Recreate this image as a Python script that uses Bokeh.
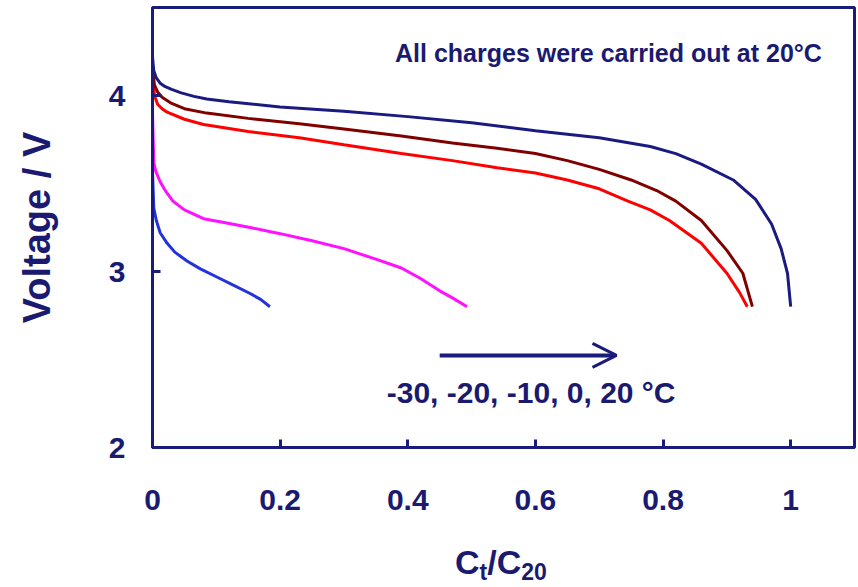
from bokeh.plotting import figure
from bokeh.models import Range1d, FixedTicker, Label, Arrow, OpenHead, Div
from bokeh.layouts import column
from bokeh.embed import file_html
from bokeh.resources import INLINE

# ---- data ----
x_m20 = [0, 0.002, 0.006, 0.012, 0.02, 0.03, 0.045, 0.065, 0.085, 0.12, 0.2, 0.3, 0.4, 0.5, 0.6, 0.7, 0.78, 0.82, 0.86, 0.91, 0.945, 0.97, 0.985, 0.995, 1.0]
v_m20 = [4.22, 4.14, 4.10, 4.07, 4.05, 4.035, 4.015, 3.995, 3.98, 3.965, 3.935, 3.91, 3.88, 3.845, 3.80, 3.76, 3.71, 3.67, 3.61, 3.52, 3.41, 3.27, 3.13, 2.99, 2.80]

x_0 = [0, 0.003, 0.008, 0.015, 0.03, 0.05, 0.085, 0.15, 0.23, 0.3, 0.39, 0.47, 0.54, 0.6, 0.65, 0.7, 0.75, 0.79, 0.82, 0.86, 0.9, 0.925, 0.94]
v_0 = [4.16, 4.06, 4.02, 3.99, 3.955, 3.925, 3.90, 3.87, 3.84, 3.81, 3.77, 3.73, 3.70, 3.67, 3.63, 3.58, 3.52, 3.46, 3.40, 3.29, 3.12, 2.99, 2.80]

x_n10 = [0, 0.003, 0.008, 0.015, 0.023, 0.05, 0.08, 0.15, 0.23, 0.3, 0.39, 0.47, 0.54, 0.6, 0.65, 0.7, 0.745, 0.78, 0.81, 0.86, 0.9, 0.92, 0.932]
v_n10 = [4.16, 4.00, 3.95, 3.925, 3.905, 3.865, 3.835, 3.795, 3.76, 3.72, 3.67, 3.63, 3.59, 3.56, 3.52, 3.47, 3.40, 3.35, 3.29, 3.16, 2.99, 2.88, 2.80]

x_n20 = [0, 0.002, 0.005, 0.012, 0.02, 0.032, 0.05, 0.08, 0.11, 0.153, 0.2, 0.25, 0.3, 0.35, 0.39, 0.42, 0.45, 0.47, 0.493]
v_n20 = [3.90, 3.62, 3.57, 3.51, 3.46, 3.40, 3.35, 3.30, 3.28, 3.25, 3.215, 3.175, 3.13, 3.07, 3.02, 2.96, 2.89, 2.85, 2.80]

x_n30 = [0, 0.002, 0.006, 0.012, 0.023, 0.035, 0.054, 0.075, 0.1, 0.125, 0.153, 0.17, 0.184]
v_n30 = [3.57, 3.36, 3.29, 3.22, 3.16, 3.11, 3.06, 3.015, 2.97, 2.925, 2.875, 2.84, 2.80]

x_ticks = [0, 0.2, 0.4, 0.6, 0.8, 1.0]
x_tick_labels = ["0", "0.2", "0.4", "0.6", "0.8", "1"]
y_ticks = [2, 3, 4]
y_tick_labels = ["2", "3", "4"]

NAVY = "#1b1b7b"
TXT = "#1a1a70"
FONT = "Liberation Sans"

p = figure(width=858, height=540, output_backend="svg", toolbar_location=None,
           x_range=Range1d(0, 1.1), y_range=Range1d(2, 4.5),
           min_border_left=152, min_border_right=4, min_border_top=7, min_border_bottom=93)
p.background_fill_color = "white"
p.border_fill_color = "white"
p.xgrid.visible = False
p.ygrid.visible = False
p.outline_line_color = NAVY
p.outline_line_width = 3

series = [
    (x_n30, v_n30, "#2233dd"),
    (x_n20, v_n20, "#ff10ff"),
    (x_n10, v_n10, "#ff0000"),
    (x_0, v_0, "#800000"),
    (x_m20, v_m20, "#1a1a80"),
]
for xs, vs, c in series:
    p.line(xs, vs, line_color=c, line_width=3)

for ax in (p.xaxis[0], p.yaxis[0]):
    ax.axis_line_color = NAVY
    ax.axis_line_width = 3
    ax.major_tick_line_color = NAVY
    ax.major_tick_line_width = 3
    ax.major_tick_in = 8
    ax.major_tick_out = 0
    ax.minor_tick_line_color = None
    ax.major_label_text_font = FONT
    ax.major_label_text_font_style = "bold"
    ax.major_label_text_font_size = "30px"
    ax.major_label_text_color = TXT

p.xaxis.ticker = FixedTicker(ticks=x_ticks)
p.xaxis.major_label_overrides = {t: l for t, l in zip(x_ticks, x_tick_labels)}
p.xaxis.major_label_standoff = 42

p.yaxis.ticker = FixedTicker(ticks=y_ticks)
p.yaxis.major_label_overrides = {t: l for t, l in zip(y_ticks, y_tick_labels)}
p.yaxis.major_label_standoff = 27
p.yaxis.axis_label = "Voltage / V"
p.yaxis.axis_label_text_font = FONT
p.yaxis.axis_label_text_font_style = "bold"
p.yaxis.axis_label_text_font_size = "38px"
p.yaxis.axis_label_text_color = TXT
p.yaxis.axis_label_standoff = 48

# annotations
p.add_layout(Label(x=0.38, y=4.244, text="All charges were carried out at 20°C",
                   text_font=FONT, text_font_style="bold", text_font_size="25px",
                   text_color=TXT, text_baseline="middle"))
p.add_layout(Label(x=0.367, y=2.3125, text="-30, -20, -10, 0, 20 °C",
                   text_font=FONT, text_font_style="bold", text_font_size="30px",
                   text_color=TXT, text_baseline="middle"))
p.add_layout(Arrow(end=OpenHead(size=24, line_width=3, line_color=NAVY),
                   x_start=0.45, y_start=2.523, x_end=0.727, y_end=2.523,
                   line_color=NAVY, line_width=4))

# x axis title with subscripts (HTML text below the plot)
x_title = Div(
    text=('C<sub style="font-size:23px;vertical-align:-6px">t</sub>/'
          'C<sub style="font-size:23px;vertical-align:-6px">20</sub>'),
    width=300, height=41, margin=(5, 0, 0, 455),
    styles={"font-family": FONT, "font-weight": "bold", "font-size": "34px",
            "color": TXT, "line-height": "1"})

layout = column(p, x_title, spacing=0)
open("out.html", "w").write(file_html(layout, INLINE))
